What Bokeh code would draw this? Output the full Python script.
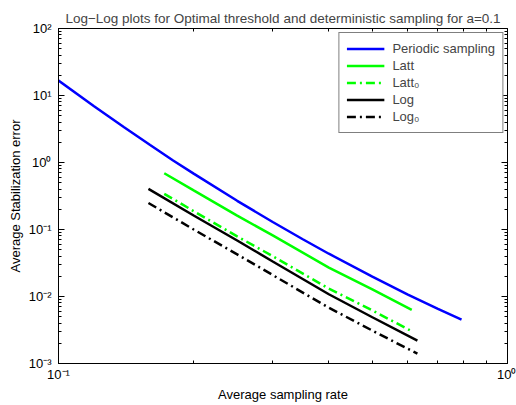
from bokeh.plotting import figure
from bokeh.models import LogAxis, FixedTicker, Legend, LegendItem, Range1d
from bokeh.embed import file_html
from bokeh.resources import INLINE

# ---- data ----
x_periodic = [0.1, 0.12, 0.14, 0.16, 0.18, 0.2, 0.25, 0.3, 0.35, 0.4, 0.5, 0.6, 0.7, 0.79]
y_periodic = [16.7, 6.90, 3.35, 1.82, 1.07, 0.683, 0.268, 0.1294, 0.0716, 0.0435, 0.01975, 0.0107, 0.00654, 0.00451]

x_latt = [0.172, 0.2, 0.25, 0.3, 0.4, 0.5, 0.612]
y_latt = [0.692, 0.383, 0.161, 0.0817, 0.027, 0.01274, 0.00633]
y_latt0 = [0.341, 0.188, 0.079, 0.040, 0.0131, 0.0062, 0.00303]

x_log = [0.1586, 0.2, 0.25, 0.3, 0.4, 0.5, 0.63]
y_log = [0.404, 0.162, 0.0686, 0.0333, 0.0108, 0.0049, 0.0022]
y_log0 = [0.249, 0.100, 0.0425, 0.0209, 0.0068, 0.0031, 0.0014]

series_labels = ["Periodic sampling", "Latt", "Latt\u2080", "Log", "Log\u2080"]

x_ticks = [0.1, 1.0]
x_tick_labels = ["10\u207b\u00b9", "10\u2070"]
x_minor = [0.2, 0.3, 0.4, 0.5, 0.6, 0.7, 0.8, 0.9]
y_ticks = [1e-3, 1e-2, 1e-1, 1.0, 10.0, 100.0]
y_tick_labels = ["10\u207b\u00b3", "10\u207b\u00b2", "10\u207b\u00b9", "10\u2070", "10\u00b9", "10\u00b2"]
y_minor = [m * d for d in [1e-3, 1e-2, 1e-1, 1.0, 10.0] for m in range(2, 10)]

title_text = "Log\u2212Log plots for Optimal threshold and deterministic sampling for a=0.1"
x_label = "Average sampling rate"
y_label = "Average Stabilization error"

FONT = "Liberation Sans"

p = figure(
    x_axis_type="log", y_axis_type="log",
    x_range=Range1d(0.1, 1.0), y_range=Range1d(1e-3, 100.0),
    width=516, height=405,
    min_border_left=58, min_border_right=9, min_border_top=28, min_border_bottom=42,
    output_backend="svg", toolbar_location=None,
    title=title_text,
)
p.title.align = "center"
p.title.text_font = FONT
p.title.text_font_size = "13.5px"
p.title.text_font_style = "normal"
p.title.standoff = 6

p.xgrid.visible = False
p.ygrid.visible = False
p.outline_line_color = "black"
p.outline_line_width = 1
p.background_fill_color = "white"
p.border_fill_color = "white"


def style_axis(ax, ticks, minor, labels, show_labels=True):
    ax.ticker = FixedTicker(ticks=ticks, minor_ticks=minor)
    ax.major_tick_in = 6
    ax.major_tick_out = 0
    ax.minor_tick_in = 3
    ax.minor_tick_out = 0
    ax.axis_line_color = "black"
    ax.major_tick_line_color = "black"
    ax.minor_tick_line_color = "black"
    ax.major_label_text_font = FONT
    ax.major_label_text_color = "black"
    ax.major_label_text_font_size = "13px"
    if show_labels:
        ax.major_label_overrides = {t: l for t, l in zip(ticks, labels)}
    else:
        ax.major_label_overrides = {t: "" for t in ticks}
        ax.major_label_standoff = 0
        ax.axis_line_color = None


style_axis(p.xaxis[0], x_ticks, x_minor, x_tick_labels)
style_axis(p.yaxis[0], y_ticks, y_minor, y_tick_labels)
p.xaxis[0].major_label_standoff = 3
p.yaxis[0].major_label_standoff = 7
p.xaxis[0].axis_label = x_label
p.yaxis[0].axis_label = y_label
for ax in (p.xaxis[0], p.yaxis[0]):
    ax.axis_label_text_font = FONT
    ax.axis_label_text_font_size = "13px"
    ax.axis_label_text_font_style = "normal"
    ax.axis_label_text_color = "black"
p.xaxis[0].axis_label_standoff = 2
p.yaxis[0].axis_label_standoff = 3

top_ax = LogAxis()
style_axis(top_ax, x_ticks, x_minor, x_tick_labels, show_labels=False)
p.add_layout(top_ax, "above")
right_ax = LogAxis()
style_axis(right_ax, y_ticks, y_minor, y_tick_labels, show_labels=False)
p.add_layout(right_ax, "right")

r1 = p.line(x_periodic, y_periodic, line_color="#0000ff", line_width=2.5)
r2 = p.line(x_latt, y_latt, line_color="#00ff00", line_width=2.5)
r3 = p.line(x_latt, y_latt0, line_color="#00ff00", line_width=2.5, line_dash="9 4 2 4")
r4 = p.line(x_log, y_log, line_color="black", line_width=2.5)
r5 = p.line(x_log, y_log0, line_color="black", line_width=2.5, line_dash="9 4 2 4")

legend = Legend(
    items=[LegendItem(label=l, renderers=[r]) for l, r in zip(series_labels, [r1, r2, r3, r4, r5])],
    location="top_right",
    margin=4,
    padding=7,
    spacing=0,
    glyph_width=38,
    glyph_height=17,
    label_height=17,
    label_standoff=8,
    label_text_font=FONT,
    label_text_font_size="13px",
    border_line_color="black",
    border_line_width=1.5,
    background_fill_alpha=1.0,
)
p.add_layout(legend)

open("out.html", "w").write(file_html(p, INLINE))
